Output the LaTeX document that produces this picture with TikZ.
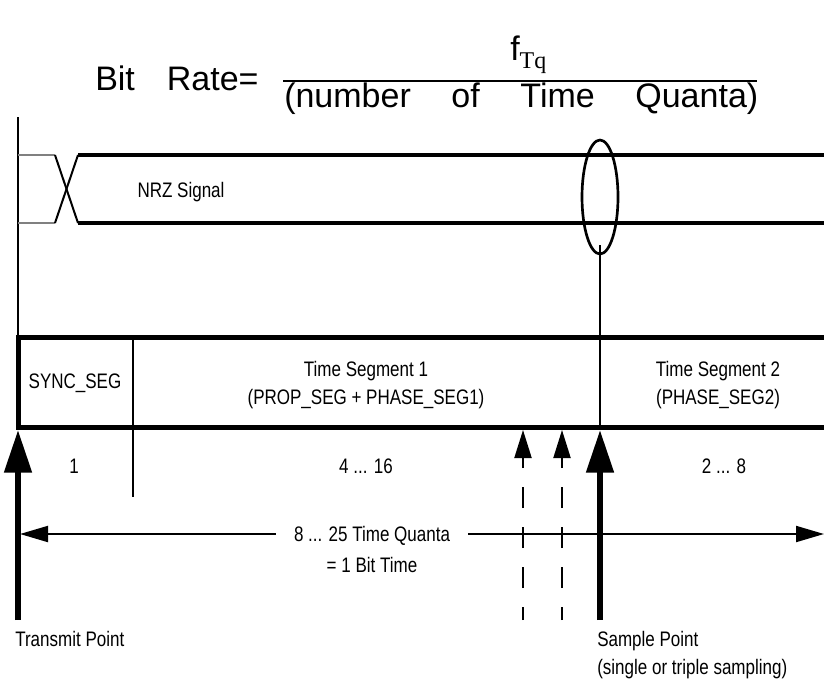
\documentclass[tikz,border=0pt]{standalone}
\usepackage{fontspec}
\setmainfont{Liberation Sans}
\newfontfamily\narrowsf[FakeStretch=0.81]{Liberation Sans}
\newfontfamily\serifsub{Liberation Serif}
\usetikzlibrary{arrows.meta,positioning,calc}

\begin{document}
\begin{tikzpicture}[
    x=0.75pt, y=-0.75pt,
    lbl/.style={font=\narrowsf\fontsize{15.75}{21}\selectfont, inner sep=0pt},
    title/.style={font=\fontsize{25.5}{30}\selectfont, inner sep=0pt},
    thinline/.style={line width=1.5pt},
    sigline/.style={line width=3pt},
    frame/.style={line width=3.75pt},
    bigarrow/.style={-{Triangle[length=32pt,width=20pt]}, line width=4.5pt},
    samplearrow/.style={-{Triangle[length=21pt,width=12.75pt]}, line width=1.5pt, dash pattern=on 15.75pt off 14.25pt, dash phase=6pt},
    dimarrow/.style={{Triangle[length=21pt,width=12pt]}-{Triangle[length=21pt,width=12pt]}, line width=1.5pt}
]
\useasboundingbox (0,0) rectangle (824,679);

% Bit rate formula
\node[title, anchor=base west] (bitrate) at (95,90) {Bit\hspace{24pt}Rate=};
\node[title, anchor=base west] (freq) at (510,60) {f\raisebox{-6pt}{\serifsub\fontsize{18}{20}\selectfont Tq}};
\node[title, anchor=base west, text width=355.5pt] (quanta) at (284,107) {(number\hfill of\hfill Time\hfill Quanta)};
\coordinate (fracL) at (283,81);
\coordinate (fracR) at (757,81);
\draw[line width=1.5pt] (fracL) -- (fracR);

% NRZ signal
\draw[thinline] (18,117) -- (18,337);
\draw[thinline, gray] (18,155) -- (55,155);
\draw[thinline, gray] (18,223) -- (55,223);
\draw[thinline] (55,155) -- (78,223);
\draw[thinline] (55,223) -- (78,155);
\draw[sigline] (78,155) -- (824,155);
\draw[sigline] (78,223) -- (824,223);
\node[lbl, anchor=base] (nrz) at (181,197) {NRZ Signal};

% Sample ellipse
\draw[line width=2pt] (600,197) ellipse [x radius=18, y radius=57];
\draw[line width=2pt] (600,245) -- (600,427);

% Bit time frame
\draw[frame] (824,337) -- (18,337) -- (18,427) -- (824,427);
\draw[line width=2pt] (133,337) -- (133,497);
\node[lbl, anchor=base] (sync) at (75,388) {SYNC\_SEG};
\node[lbl, align=center] (seg1) at (366,385) {Time Segment 1\\(PROP\_SEG + PHASE\_SEG1)};
\node[lbl, align=center] (seg2) at (718,385) {Time Segment 2\\(PHASE\_SEG2)};
\node[lbl, anchor=base] (len1) at (74,473) {1};
\node[lbl, anchor=base] (len2) at (366,473) {4 ... 16};
\node[lbl, anchor=base] (len3) at (724,473) {2 ... 8};

% Transmit and sample points
\coordinate (txTip) at (18,430);
\coordinate (txEnd) at (18,620);
\coordinate (spTip) at (600,430);
\coordinate (spEnd) at (600,620);
\coordinate (s1Tip) at (523,430);
\coordinate (s1End) at (523,620);
\coordinate (s2Tip) at (562,430);
\coordinate (s2End) at (562,620);
\draw[bigarrow] (txEnd) -- (txTip);
\draw[bigarrow] (spEnd) -- (spTip);
\draw[samplearrow] (s1End) -- (s1Tip);
\draw[samplearrow] (s2End) -- (s2Tip);

% Bit time span
\coordinate (spanL) at (20,534);
\coordinate (spanR) at (824,534);
\draw[dimarrow] (spanL) -- (spanR);
\node[lbl, anchor=base, fill=white, inner xsep=13.5pt, inner ysep=2pt] (tq) at (372,541) {8 ... 25 Time Quanta};
\node[lbl, anchor=base] (bittime) at (372,572) {= 1 Bit Time};

\node[lbl, anchor=base west] (txlbl) at (15,646) {Transmit Point};
\node[lbl, anchor=north west, align=left] (splbl) at (597,631) {Sample Point\\(single or triple sampling)};

\end{tikzpicture}
\end{document}
